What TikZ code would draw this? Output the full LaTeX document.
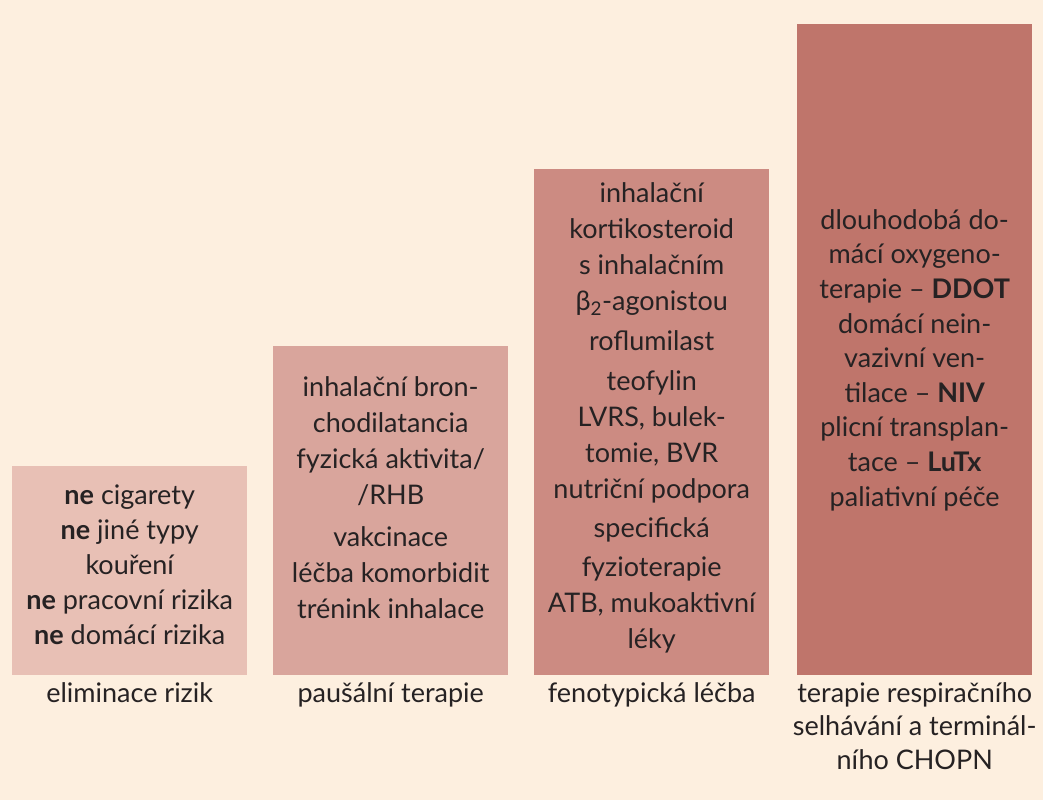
\documentclass[tikz,border=0pt]{standalone}
\usepackage{fontspec}
\setmainfont{Lato}
\usetikzlibrary{positioning}
\definecolor{bg}{HTML}{FDEFDF}
\definecolor{barA}{HTML}{E8C0B5}
\definecolor{barB}{HTML}{D9A59C}
\definecolor{barC}{HTML}{CC8B82}
\definecolor{barD}{HTML}{BF756B}
\definecolor{ink}{HTML}{262223}

\begin{document}
\begin{tikzpicture}[x=1pt, y=-1pt,
    bar/.style={fill=#1, inner sep=0pt, anchor=north west, minimum width=235pt},
    txt/.style={align=center, text=ink, inner sep=0pt, font=\fontsize{27}{36}\selectfont},
    lbl/.style={txt, anchor=north, font=\fontsize{27}{33.5}\selectfont},
]
    % background
    \fill[bg] (0,0) rectangle (1043,800);

    % bars
    \node[bar=barA, minimum height=209pt] (rizika) at (12,466) {};
    \node[bar=barB, minimum height=329pt] (pausal) at (273,346) {};
    \node[bar=barC, minimum height=506pt] (fenotyp) at (534,169) {};
    \node[bar=barD, minimum height=651pt] (selhani) at (797,24) {};

    % texts in bars
    \node[txt, font=\fontsize{27}{35}\selectfont] (rizikaT) at (rizika.center |- 0,565) {%
        {\bfseries ne} cigarety\\ {\bfseries ne} jiné typy\\ kouření\\
        {\bfseries ne} pracovní rizika\\ {\bfseries ne} domácí rizika};
    \node[txt] (pausalT) at (pausal.center |- 0,498) {%
        inhalační bron-\\ chodilatancia\\ fyzická aktivita/\\ /RHB\\[6pt]
        vakcinace\\ léčba komorbidit\\ trénink inhalace};
    \node[txt] (fenotypT) at (fenotyp.center |- 0,418) {%
        inhalační\\ kortikosteroid\\ s inhalačním\\ β\textsubscript{2}-agonistou\\[4pt]
        roflumilast\\[4pt] teofylin\\ LVRS, bulek-\\ tomie, BVR\\ nutriční podpora\\[3pt]
        specifická\\[3pt] fyzioterapie\\ ATB, mukoaktivní\\ léky};
    \node[txt, font=\fontsize{27}{34.6}\selectfont] (selhaniT) at (selhani.center |- 0,360) {%
        dlouhodobá do-\\ mácí oxygeno-\\ terapie -- {\bfseries DDOT}\\ domácí nein-\\
        vazivní ven-\\ tilace -- {\bfseries NIV}\\ plicní transplan-\\
        tace -- {\bfseries LuTx}\\ paliativní péče};

    % labels under bars
    \node[lbl, below=7pt of rizika] (rizikaL) {eliminace rizik};
    \node[lbl, below=7pt of pausal] (pausalL) {paušální terapie};
    \node[lbl, below=7pt of fenotyp] (fenotypL) {fenotypická léčba};
    \node[lbl, below=7pt of selhani] (selhaniL) {terapie respiračního\\ selhávání a terminál-\\ ního CHOPN};
\end{tikzpicture}
\end{document}
